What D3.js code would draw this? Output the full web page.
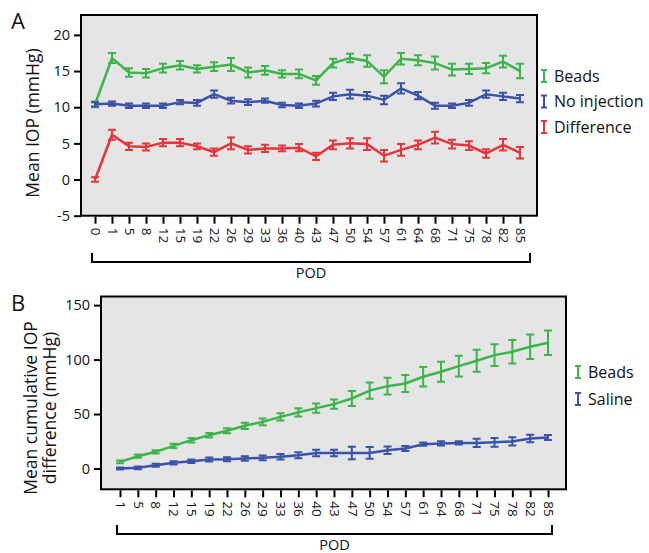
<!DOCTYPE html>
<html>
<head>
<meta charset="utf-8">
<script src="https://cdn.jsdelivr.net/npm/d3@7"></script>
<style>
body{margin:0;background:#fff;}
text{font-family:"Open Sans",sans-serif;fill:#111;}
</style>
</head>
<body>
<svg id="svg" width="649" height="553"></svg>
<script>
// ---- data, panel A (mean IOP) ----
var podA=["0","1","5","8","12","15","19","22","26","29","33","36","40","43","47","50","54","57","61","64","68","71","75","78","82","85"];
var beadsA=[10.4,16.8,14.8,14.7,15.4,15.8,15.3,15.6,15.9,14.8,15.1,14.6,14.6,13.7,16.1,16.8,16.4,14.2,16.7,16.5,16.1,15.2,15.3,15.4,16.3,15.0];
var beadsAErr=[0.4,0.7,0.6,0.6,0.6,0.6,0.5,0.6,0.9,0.7,0.6,0.5,0.6,0.6,0.6,0.6,0.8,0.9,0.8,0.7,0.9,0.8,0.7,0.7,0.8,1.0];
var noInj=[10.4,10.5,10.2,10.2,10.2,10.7,10.6,11.8,10.9,10.7,10.9,10.3,10.2,10.5,11.5,11.8,11.6,11.0,12.6,11.6,10.2,10.2,10.6,11.8,11.5,11.2];
var noInjErr=[0.3,0.3,0.3,0.3,0.3,0.3,0.4,0.5,0.4,0.4,0.3,0.3,0.3,0.4,0.5,0.6,0.5,0.6,0.7,0.5,0.4,0.3,0.4,0.5,0.5,0.5];
var diffA=[0.0,6.2,4.6,4.5,5.1,5.1,4.6,3.8,5.0,4.1,4.3,4.3,4.4,3.2,4.8,5.0,4.9,3.3,4.1,4.8,5.8,4.9,4.7,3.6,4.8,3.7];
var diffAErr=[0.3,0.7,0.5,0.5,0.5,0.5,0.4,0.5,0.8,0.5,0.5,0.4,0.5,0.5,0.6,0.7,0.8,0.8,0.8,0.6,0.8,0.6,0.6,0.6,0.8,0.8];
var ticksA=[-5,0,5,10,15,20];

// ---- data, panel B (cumulative IOP difference) ----
var podB=["1","5","8","12","15","19","22","26","29","33","36","40","43","47","50","54","57","61","64","68","71","75","78","82","85"];
var beadsB=[6.1,11.3,15.3,20.8,26.0,30.6,34.6,39.2,42.8,47.4,51.5,55.4,59.1,64.3,71.5,75.6,78.1,84.2,88.8,94.0,98.9,104.1,107.2,111.8,115.5];
var beadsBErr=[1.2,1.5,1.5,2.0,2.1,2.1,2.3,2.9,3.1,3.4,3.8,4.3,4.3,6.9,7.4,7.7,7.8,8.9,9.2,9.5,10.0,10.0,10.7,11.3,11.2];
var saline=[0.0,0.6,3.0,5.2,6.7,8.2,8.5,9.2,9.8,10.7,12.2,14.3,14.3,14.3,14.3,16.8,18.4,22.3,23.0,23.5,23.5,24.0,24.8,27.6,28.5];
var salineErr=[1.0,1.2,1.3,1.5,1.6,1.8,1.8,2.0,2.2,2.5,2.8,3.0,3.0,5.7,5.4,3.5,2.3,1.5,2.0,1.5,3.8,4.0,3.8,3.4,2.3];
var ticksB=[0,50,100,150];

var green="#3bb44a", blue="#3a52a8", red="#e8343a";
var svg=d3.select("#svg");

function panel(o){
    var x=d3.scalePoint().domain(o.cats).range([o.x0,o.x1]);
    var y=d3.scaleLinear().domain(o.ydom).range([o.bottom,o.top]);

    svg.append("rect")
        .attr("x",o.left).attr("y",o.top)
        .attr("width",o.right-o.left).attr("height",o.bottom-o.top)
        .attr("fill","#e5e5e5").attr("stroke","#000").attr("stroke-width",2);

    // y axis (plain hyphen for negatives, like the original)
    var ya=svg.append("g").attr("transform","translate("+o.left+",0)")
        .call(d3.axisLeft(y).tickValues(o.yticks).tickFormat(function(d){return String(d);})
            .tickSize(7).tickPadding(4).tickSizeOuter(0));
    ya.select(".domain").remove();
    ya.selectAll("line").attr("stroke","#000").attr("stroke-width",2);
    ya.selectAll("text").style("font-family","'Open Sans',sans-serif").style("font-size","14.5px").attr("fill","#111");

    // x axis, rotated labels
    var xa=svg.append("g").attr("transform","translate(0,"+(o.bottom+1)+")")
        .call(d3.axisBottom(x).tickSize(7).tickPadding(4).tickSizeOuter(0));
    xa.select(".domain").remove();
    xa.selectAll("line").attr("stroke","#000").attr("stroke-width",2);
    xa.selectAll("text")
        .style("font-family","'Open Sans',sans-serif").style("font-size","13.5px").attr("fill","#111")
        .attr("text-anchor","start").attr("x",0).attr("y",0).attr("dy","0.35em")
        .attr("transform","translate(0,11) rotate(90)");

    // bracket + POD
    svg.append("path")
        .attr("d","M"+o.br0+","+(o.brY-9)+"V"+o.brY+"H"+o.br1+"V"+(o.brY-9))
        .attr("fill","none").attr("stroke","#000").attr("stroke-width",2);
    svg.append("text").attr("x",(o.br0+o.br1)/2).attr("y",o.brY+16)
        .attr("text-anchor","middle").style("font-size","14.5px").text("POD");

    // series
    o.series.forEach(function(s){
        var pts=s.v.map(function(v,i){return {c:o.cats[i],v:v,e:s.e[i]};});
        svg.append("path").datum(pts)
            .attr("fill","none").attr("stroke",s.col).attr("stroke-width",2.5)
            .attr("d",d3.line().x(function(d){return x(d.c);}).y(function(d){return y(d.v);}));
        var g=svg.append("g").attr("stroke",s.col).attr("stroke-width",2);
        g.selectAll("path").data(pts).enter().append("path")
            .attr("fill","none")
            .attr("d",function(d){
                var cx=x(d.c), t=y(d.v+d.e), b=y(d.v-d.e);
                return "M"+cx+","+t+"V"+b+"M"+(cx-4)+","+t+"H"+(cx+4)+"M"+(cx-4)+","+b+"H"+(cx+4);
            });
    });

    // legend
    o.series.forEach(function(s,i){
        var ly=o.legY+i*o.legStep;
        svg.append("path")
            .attr("d","M"+o.legX+","+(ly-6)+"V"+(ly+6)+"M"+(o.legX-3)+","+(ly-6)+"H"+(o.legX+3)+"M"+(o.legX-3)+","+(ly+6)+"H"+(o.legX+3))
            .attr("fill","none").attr("stroke",s.col).attr("stroke-width",2);
        svg.append("text").attr("x",o.legX+10).attr("y",ly).attr("dy","0.36em")
            .style("font-size","16px").text(s.name);
    });

    // panel letter
    svg.append("text").attr("x",11).attr("y",o.top+14).style("font-size","22px").text(o.letter);
}

panel({
    letter:"A", cats:podA, x0:95, x1:520,
    left:81, right:537, top:15, bottom:215.7,
    ydom:[-5,22.75], yticks:ticksA,
    br0:92, br1:530, brY:262,
    legX:544, legY:76, legStep:25.5,
    series:[
        {name:"Beads", v:beadsA, e:beadsAErr, col:green},
        {name:"No injection", v:noInj, e:noInjErr, col:blue},
        {name:"Difference", v:diffA, e:diffAErr, col:red}
    ]
});
svg.append("text").attr("transform","translate(39,123) rotate(-90)")
    .attr("text-anchor","middle").style("font-size","17.5px").text("Mean IOP (mmHg)");

panel({
    letter:"B", cats:podB, x0:120, x1:548,
    left:101, right:566, top:296.5, bottom:489.3,
    ydom:[-19.1,157.9], yticks:ticksB,
    br0:117, br1:552, brY:534,
    legX:578, legY:372, legStep:27,
    series:[
        {name:"Beads", v:beadsB, e:beadsBErr, col:green},
        {name:"Saline", v:saline, e:salineErr, col:blue}
    ]
});
svg.append("text").attr("transform","translate(37,408) rotate(-90)")
    .attr("text-anchor","middle").style("font-size","17.5px")
    .selectAll("tspan").data(["Mean cumulative IOP","difference (mmHg)"]).enter().append("tspan")
    .attr("x",0).attr("dy",function(d,i){return i?"19px":0;}).text(function(d){return d;});
</script>
</body>
</html>
